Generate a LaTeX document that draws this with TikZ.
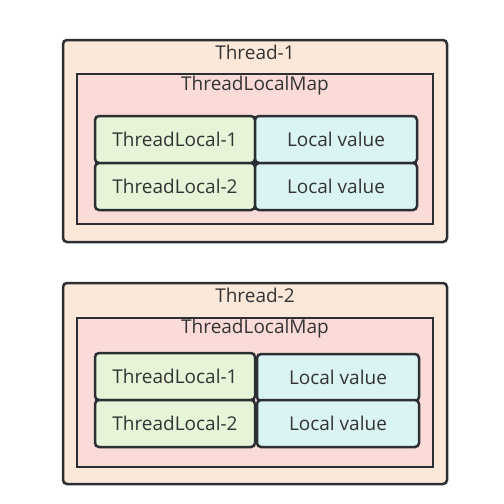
\documentclass[tikz,border=0pt]{standalone}
\usepackage{fontspec}
\setmainfont{Open Sans}
\usepackage{xcolor}
\usetikzlibrary{positioning}

\definecolor{threadfill}{HTML}{FCE8D8}
\definecolor{mapfill}{HTML}{FADBD8}
\definecolor{keyfill}{HTML}{E6F5D8}
\definecolor{valfill}{HTML}{DAF3F3}
\definecolor{edge}{HTML}{2B2F33}
\definecolor{ink}{HTML}{333333}

\begin{document}
\begin{tikzpicture}[
    x=1pt, y=-1pt,
    node distance=0pt,
    thread/.style={rectangle, rounded corners=4pt, draw=edge, line width=2.5pt, fill=threadfill, inner sep=0pt, outer sep=0pt},
    lmap/.style={rectangle, draw=edge, line width=2.5pt, fill=mapfill, inner sep=0pt, outer sep=0pt},
    keycell/.style={rectangle, rounded corners=4pt, draw=edge, line width=2.5pt, fill=keyfill, minimum width=160pt, minimum height=47pt, outer sep=0pt, text=ink, font=\fontsize{19}{22}\selectfont},
    valcell/.style={rectangle, rounded corners=4pt, draw=edge, line width=2.5pt, fill=valfill, minimum width=162pt, minimum height=47pt, outer sep=0pt, text=ink, font=\fontsize{19}{22}\selectfont},
    title/.style={text=ink, font=\fontsize{19}{22}\selectfont, inner sep=0pt}
]
    \useasboundingbox (0,0) rectangle (504,504);

    % Thread-1
    \node[thread, minimum width=384pt, minimum height=202pt] (thread1) at (255,141) {};
    \node[title] (thread1_lbl) at (255,52) {Thread-1};
    \node[lmap, minimum width=356pt, minimum height=150pt] (map1) at (255,149) {};
    \node[title] (map1_lbl) at (255,86) {ThreadLocalMap};
    \node[keycell] (tl11) at (175,139.5) {ThreadLocal-1};
    \node[valcell, right=0pt of tl11] (lv11) {Local value};
    \node[keycell, below=0pt of tl11] (tl12) {ThreadLocal-2};
    \node[valcell, right=0pt of tl12] (lv12) {Local value};

    % Thread-2
    \node[thread, minimum width=384pt, minimum height=201pt] (thread2) at (255,383.5) {};
    \node[title] (thread2_lbl) at (255,295) {Thread-2};
    \node[lmap, minimum width=356pt, minimum height=149pt] (map2) at (255,392.5) {};
    \node[title] (map2_lbl) at (255,329) {ThreadLocalMap};
    \node[keycell] (tl21) at (175,376.5) {ThreadLocal-1};
    \node[valcell, right=2pt of tl21, yshift=-1pt] (lv21) {Local value};
    \node[keycell, below=0pt of tl21] (tl22) {ThreadLocal-2};
    \node[valcell, right=2pt of tl22] (lv22) {Local value};
\end{tikzpicture}
\end{document}
